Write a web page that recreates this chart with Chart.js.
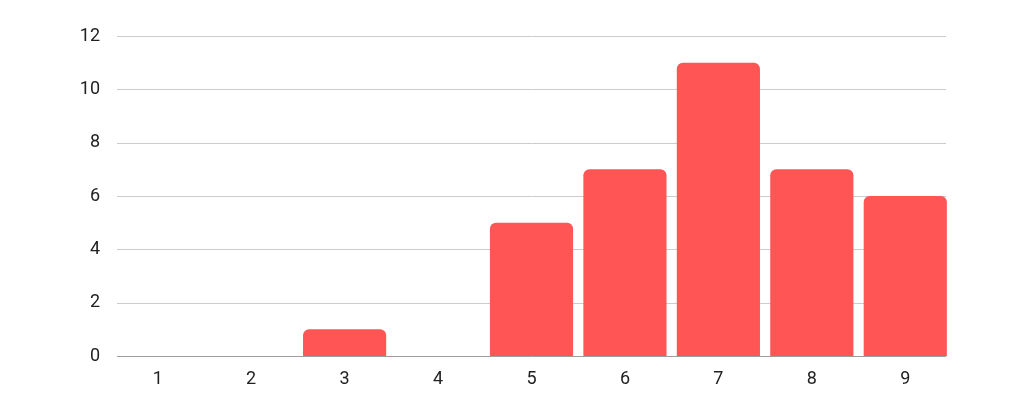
<!DOCTYPE html>
<html>
<head>
<meta charset="utf-8">
<script src="https://cdn.jsdelivr.net/npm/chart.js@4"></script>
<style>
  html, body { margin: 0; padding: 0; background: #fff; }
  #wrap { width: 1024px; height: 411px; }
</style>
</head>
<body>
<div id="wrap"><canvas id="chart" width="1024" height="411"></canvas></div>
<script>
// datos
const categories = ['1', '2', '3', '4', '5', '6', '7', '8', '9'];
const counts = [0, 0, 1, 0, 5, 7, 11, 7, 6];
const yTicks = [0, 2, 4, 6, 8, 10, 12];

const barColor = '#ff5555';
const fontColor = '#222';

// Líneas de la cuadrícula un poco metidas respecto al área del gráfico
const insetGridPlugin = {
    id: 'insetGrid',
    beforeDatasetsDraw: (chart) => {
        const c = chart.ctx;
        const area = chart.chartArea;
        const yScale = chart.scales.y;
        c.save();
        c.lineWidth = 1;
        yTicks.forEach(v => {
            const y = Math.round(yScale.getPixelForValue(v)) + 0.5;
            c.strokeStyle = v === 0 ? '#9e9e9e' : '#cccccc';
            c.beginPath();
            c.moveTo(area.left + 6, y);
            c.lineTo(area.right - 6, y);
            c.stroke();
        });
        c.restore();
    }
};

const ctx = document.getElementById('chart').getContext('2d');
new Chart(ctx, {
    type: 'bar',
    data: {
        labels: categories,
        datasets: [{
            data: counts,
            backgroundColor: barColor,
            borderRadius: 6,
            borderSkipped: 'bottom',
            categoryPercentage: 0.89,
            barPercentage: 1.0
        }]
    },
    options: {
        responsive: false,
        animation: false,
        layout: { padding: { top: 36, right: 72, bottom: 0, left: 0 } },
        plugins: {
            legend: { display: false },
            tooltip: { enabled: false }
        },
        scales: {
            x: {
                grid: { display: false, drawTicks: false },
                border: { display: false },
                ticks: {
                    color: fontColor,
                    padding: 13,
                    font: { family: 'Roboto', size: 18 }
                },
                afterFit: (scale) => { scale.height = 55; }
            },
            y: {
                min: 0,
                max: 12,
                afterBuildTicks: (scale) => {
                    scale.ticks = yTicks.map(v => ({ value: v }));
                },
                grid: { display: false, drawTicks: false },
                border: { display: false },
                ticks: {
                    color: fontColor,
                    padding: 11,
                    font: { family: 'Roboto', size: 18 }
                },
                afterFit: (scale) => { scale.width = 111; }
            }
        }
    },
    plugins: [insetGridPlugin]
});
</script>
</body>
</html>
